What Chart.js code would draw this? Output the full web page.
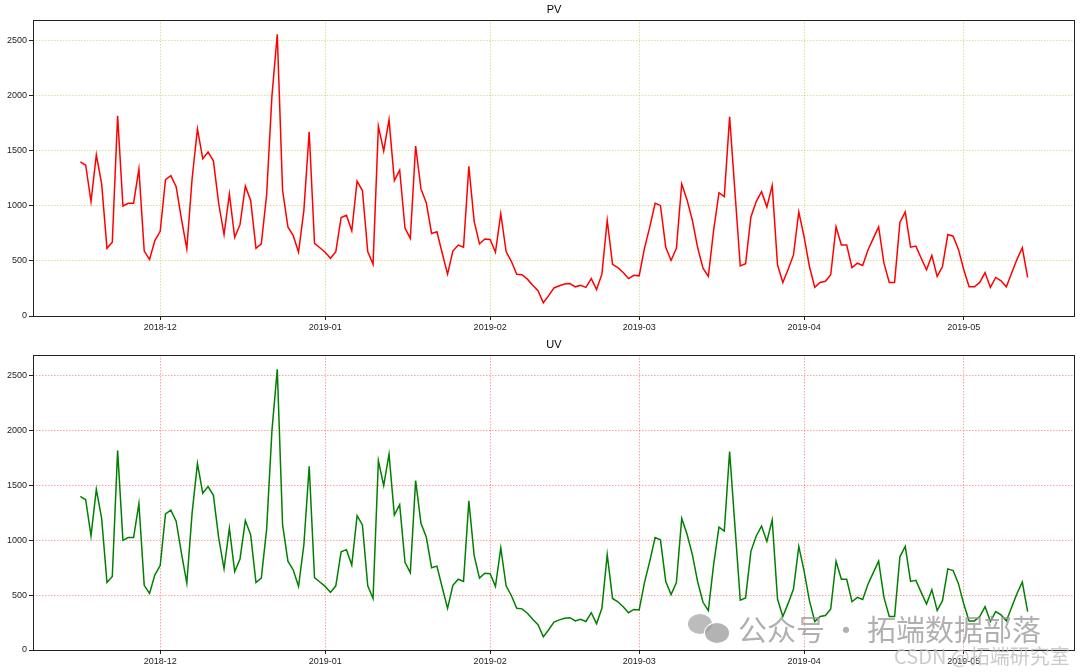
<!DOCTYPE html>
<html>
<head>
<meta charset="utf-8">
<script src="https://cdn.jsdelivr.net/npm/chart.js@4.4.0/dist/chart.umd.min.js"></script>
<style>
  html, body { margin: 0; padding: 0; background: #ffffff; }
  #wrap { position: relative; width: 1080px; height: 672px; overflow: hidden; background: #fff; }
  canvas { position: absolute; left: 0; }
  #c1 { top: 0; }
  #c2 { top: 336px; }
  .wm1 { position: absolute; left: 738px; top: 607px; font-family: "Noto Sans CJK SC", sans-serif; font-size: 29px; color: rgba(150,150,150,0.75); white-space: nowrap; letter-spacing: 0px; }
  .wm2 { position: absolute; left: 894px; top: 641px; font-family: "Noto Sans CJK SC", sans-serif; font-size: 20px; color: rgba(190,190,190,0.8); white-space: nowrap; }
  .ic1 { position: absolute; left: 688px; top: 614px; width: 24px; height: 20px; border-radius: 50%; background: rgba(160,160,160,0.7); }
  .ic2 { position: absolute; left: 704px; top: 622px; width: 24px; height: 20px; border-radius: 50%; background: rgba(160,160,160,0.8); border: 1.5px solid #fff; }
</style>
</head>
<body>
<div id="wrap">
  <canvas id="c1" width="1080" height="336"></canvas>
  <canvas id="c2" width="1080" height="336"></canvas>
  <div class="ic1"></div><div class="ic2"></div>
  <div class="wm1">公众号 · 拓端数据部落</div>
  <div class="wm2">CSDN @拓端研究室</div>
</div>
<script>
// ---- data ----
const startDate = '2018-11-16';   // first daily observation
const pvValues = [
  1400, 1370, 1040, 1465, 1200, 615, 670, 1820, 1000, 1025,
  1025, 1335, 590, 515, 685, 770, 1240, 1275, 1175, 880,
  610, 1250, 1700, 1430, 1490, 1410, 1020, 740, 1110, 715,
  830, 1180, 1050, 615, 655, 1100, 2000, 2560, 1140, 810,
  730, 580, 960, 1675, 660, 620, 580, 525, 585, 895,
  915, 775, 1225, 1140, 585, 470, 1725, 1500, 1785, 1230,
  1325, 800, 705, 1545, 1155, 1030, 750, 765, 570, 380,
  590, 645, 625, 1360, 860, 655, 700, 695, 580, 930,
  585, 495, 380, 375, 335, 280, 230, 120, 185, 255,
  275, 290, 295, 265, 280, 260, 340, 240, 380, 870,
  470, 440, 395, 340, 370, 365, 615, 810, 1025, 1005,
  625, 505, 615, 1200, 1055, 870, 620, 435, 360, 780,
  1120, 1085, 1810, 1130, 455, 475, 900, 1040, 1130, 990,
  1185, 465, 305, 425, 555, 945, 720, 450, 260, 305,
  315, 375, 810, 645, 645, 440, 480, 460, 600, 705,
  810, 480, 305, 305, 850, 945, 625, 635, 525, 420,
  550, 360, 450, 740, 725, 605, 420, 265, 265, 305,
  395, 260, 350, 320, 265, 390, 515, 620, 350
];
const uvValues = [
  1400, 1370, 1040, 1465, 1200, 615, 670, 1820, 1000, 1025,
  1025, 1335, 590, 515, 685, 770, 1240, 1275, 1175, 880,
  610, 1250, 1700, 1430, 1490, 1410, 1020, 740, 1110, 715,
  830, 1180, 1050, 615, 655, 1100, 2000, 2560, 1140, 810,
  730, 580, 960, 1675, 660, 620, 580, 525, 585, 895,
  915, 775, 1225, 1140, 585, 470, 1725, 1500, 1785, 1230,
  1325, 800, 705, 1545, 1155, 1030, 750, 765, 570, 380,
  590, 645, 625, 1360, 860, 655, 700, 695, 580, 930,
  585, 495, 380, 375, 335, 280, 230, 120, 185, 255,
  275, 290, 295, 265, 280, 260, 340, 240, 380, 870,
  470, 440, 395, 340, 370, 365, 615, 810, 1025, 1005,
  625, 505, 615, 1200, 1055, 870, 620, 435, 360, 780,
  1120, 1085, 1810, 1130, 455, 475, 900, 1040, 1130, 990,
  1185, 465, 305, 425, 555, 945, 720, 450, 260, 305,
  315, 375, 810, 645, 645, 440, 480, 460, 600, 705,
  810, 480, 305, 305, 850, 945, 625, 635, 525, 420,
  550, 360, 450, 740, 725, 605, 420, 265, 265, 305,
  395, 260, 350, 320, 265, 390, 515, 620, 350
];
const monthTickDates  = ['2018-12-01', '2019-01-01', '2019-02-01', '2019-03-01', '2019-04-01', '2019-05-01'];
const monthTickLabels = ['2018-12', '2019-01', '2019-02', '2019-03', '2019-04', '2019-05'];
const yTickValues = [0, 500, 1000, 1500, 2000, 2500];
const yTickLabels = ['0', '500', '1000', '1500', '2000', '2500'];

// ---- helpers ----
const DAY = 86400000;
const t0 = Date.parse(startDate + 'T00:00:00Z');
const dayOffset = d => (Date.parse(d + 'T00:00:00Z') - t0) / DAY;
const monthTickOffsets = monthTickDates.map(dayOffset);
const nDays = pvValues.length - 1;
const xMargin = nDays * 0.05;

const tickFont = { family: '"Liberation Sans", Arial, sans-serif', size: 9 };

const framePlugin = {
  id: 'frameAndTitle',
  afterDraw(chart, args, opts) {
    const { ctx, chartArea } = chart;
    ctx.save();
    ctx.strokeStyle = '#222';
    ctx.lineWidth = 1;
    ctx.strokeRect(Math.round(chartArea.left) + 0.5, Math.round(chartArea.top) + 0.5,
                   Math.round(chartArea.right - chartArea.left) - 1, Math.round(chartArea.bottom - chartArea.top));
    ctx.fillStyle = '#000';
    ctx.font = '11px "Liberation Sans", Arial, sans-serif';
    ctx.textAlign = 'center';
    ctx.textBaseline = 'middle';
    ctx.fillText(opts.text, (chartArea.left + chartArea.right) / 2, chartArea.top - 10);
    ctx.restore();
  }
};

function makeChart(id, title, values, color, gridColor, padTop, xAxisH) {
  const pts = values.map((v, i) => ({ x: i, y: v }));
  return new Chart(document.getElementById(id), {
    type: 'line',
    data: { datasets: [{ data: pts, borderColor: color, borderWidth: 1.5, pointRadius: 0, tension: 0, fill: false }] },
    options: {
      responsive: false,
      animation: false,
      devicePixelRatio: 1,
      events: [],
      layout: { padding: { top: padTop, right: 5, left: 0, bottom: 0 } },
      plugins: { legend: { display: false }, tooltip: { enabled: false }, title: { display: false }, frameAndTitle: { text: title } },
      scales: {
        x: {
          type: 'linear',
          min: -xMargin,
          max: nDays + xMargin,
          afterBuildTicks: s => { s.ticks = monthTickOffsets.map(v => ({ value: v })); },
          afterFit: s => { s.height = xAxisH; },
          ticks: {
            autoSkip: false, maxRotation: 0, padding: 2, color: '#222', font: tickFont,
            callback: v => { const k = monthTickOffsets.indexOf(v); return k >= 0 ? monthTickLabels[k] : ''; }
          },
          grid: { color: gridColor, lineWidth: 0.8, tickColor: '#222', tickLength: 4, tickWidth: 1, tickBorderDash: [] },
          border: { display: false, dash: [1.5, 1.5] }
        },
        y: {
          type: 'linear',
          min: 0,
          max: 2690,
          afterBuildTicks: s => { s.ticks = yTickValues.map(v => ({ value: v })); },
          afterFit: s => { s.width = 33; },
          ticks: {
            padding: 2, color: '#222', font: tickFont,
            callback: v => { const k = yTickValues.indexOf(v); return k >= 0 ? yTickLabels[k] : ''; }
          },
          grid: { color: gridColor, lineWidth: 0.8, tickColor: '#222', tickLength: 4, tickWidth: 1, tickBorderDash: [] },
          border: { display: false, dash: [1.5, 1.5] }
        }
      }
    },
    plugins: [framePlugin]
  });
}

makeChart('c1', 'PV', pvValues, '#ff0000', 'rgba(185,185,30,0.6)', 20, 20);
makeChart('c2', 'UV', uvValues, '#008000', 'rgba(255,60,60,0.6)', 19, 22);
</script>
</body>
</html>
